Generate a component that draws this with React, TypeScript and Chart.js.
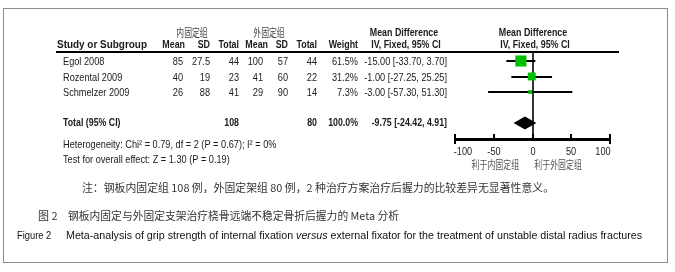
import React, { useEffect, useRef } from "react";
import { Chart, registerables } from "chart.js";
Chart.register(...registerables);

// ---------- data ----------
const studies = ["Egol 2008", "Rozental 2009", "Schmelzer 2009"];
const expMean = [85, 40, 26];
const expSD = ["27.5", "19", "88"];
const expTotal = [44, 23, 41];
const ctrlMean = [100, 41, 29];
const ctrlSD = [57, 60, 90];
const ctrlTotal = [44, 22, 14];
const weights = [61.5, 31.2, 7.3];
const md = [-15.0, -1.0, -3.0];
const ciLow = [-33.7, -27.25, -57.3];
const ciHigh = [3.7, 25.25, 51.3];
const totalExp = 108;
const totalCtrl = 80;
const totalWeight = 100.0;
const totalMD = -9.75;
const totalLow = -24.42;
const totalHigh = 4.91;
const xTicks = [-100, -50, 0, 50, 100];
const groupExp = "内固定组";
const groupCtrl = "外固定组";
const favoursLeft = "利于内固定组";
const favoursRight = "利于外固定组";
const heterogeneity = "Heterogeneity: Chi² = 0.79, df = 2 (P = 0.67); I² = 0%";
const overallEffect = "Test for overall effect: Z = 1.30 (P = 0.19)";
const noteText = "注：钢板内固定组 108 例，外固定架组 80 例，2 种治疗方案治疗后握力的比较差异无显著性意义。";
const captionCnLabel = "图 2";
const captionCn = "钢板内固定与外固定支架治疗桡骨远端不稳定骨折后握力的 Meta 分析";
const captionEnLabel = "Figure 2";
const captionEnParts = [
  "Meta-analysis of grip strength of internal fixation ",
  "versus",
  " external fixator for the treatment of unstable distal radius fractures",
];

const fmt2 = (v: number) => v.toFixed(2);
const ciText = (m: number, l: number, h: number) => `${fmt2(m)} [${fmt2(l)}, ${fmt2(h)}]`;

const FONT = '"Liberation Sans", Arial, sans-serif';
const CJK = '"Noto Sans CJK SC", sans-serif';
const NARROW = 0.835;

type TOpt = {
  size?: number;
  bold?: boolean;
  italic?: boolean;
  align?: CanvasTextAlign;
  sx?: number;
  color?: string;
  family?: string;
  fit?: number;
};

function txt(ctx: CanvasRenderingContext2D, s: string, x: number, y: number, o: TOpt = {}) {
  ctx.save();
  ctx.font = `${o.italic ? "italic " : ""}${o.bold ? "bold " : ""}${o.size ?? 11}px ${o.family ?? FONT}`;
  ctx.fillStyle = o.color ?? "#1a1a1a";
  ctx.textAlign = o.align ?? "left";
  ctx.textBaseline = "middle";
  let sx = o.sx ?? NARROW;
  if (o.fit) sx = o.fit / ctx.measureText(s).width;
  ctx.translate(x, y);
  ctx.scale(sx, 1);
  ctx.fillText(s, 0, 0);
  ctx.restore();
}

export default function App() {
  const ref = useRef<HTMLCanvasElement>(null);

  useEffect(() => {
    document.body.style.margin = "0";
    const canvas = ref.current!;
    const W = 675;
    const H = 272;
    const plot = { left: 455, right: 610, top: 52, bottom: 139 };
    const totalRow = 4;

    const forest = {
      id: "forest",
      beforeDatasetsDraw(chart: any) {
        const ctx: CanvasRenderingContext2D = chart.ctx;
        const xs = chart.scales.x;
        const ys = chart.scales.y;
        ctx.save();
        // frame
        ctx.strokeStyle = "#8c8c8c";
        ctx.lineWidth = 1;
        ctx.strokeRect(3.5, 8.5, 664, 254);

        // header line
        ctx.fillStyle = "#000";
        ctx.fillRect(56, 51, 563, 2);

        // zero line
        const x0 = xs.getPixelForValue(0);
        ctx.fillStyle = "#333";
        ctx.fillRect(Math.round(x0) - 1, plot.top, 2, plot.bottom - plot.top);

        // axis
        ctx.fillStyle = "#000";
        const xa = xs.getPixelForValue(xTicks[0]);
        const xb = xs.getPixelForValue(xTicks[xTicks.length - 1]);
        ctx.fillRect(xa - 1, plot.bottom - 1, xb - xa + 2, 3);
        xTicks.forEach((t, i) => {
          const px = Math.round(xs.getPixelForValue(t));
          const first = i === 0;
          const last = i === xTicks.length - 1;
          ctx.fillRect(px - 1, plot.bottom - 5, 2, first || last ? 10 : 5);
          const lx = first ? px + 8 : last ? px - 7 : px;
          txt(ctx, String(t), lx, plot.bottom + 13, { align: "center", size: 11, color: "#222" });
        });
        txt(ctx, favoursLeft, xs.getPixelForValue(-48), plot.bottom + 26, { align: "center", size: 11, family: CJK, sx: 0.72, color: "#555" });
        txt(ctx, favoursRight, xs.getPixelForValue(33), plot.bottom + 26, { align: "center", size: 11, family: CJK, sx: 0.72, color: "#555" });

        // CI whiskers
        ctx.fillStyle = "#000";
        studies.forEach((_, i) => {
          const y = Math.round(ys.getPixelForValue(i));
          const l = xs.getPixelForValue(ciLow[i]);
          const h = xs.getPixelForValue(ciHigh[i]);
          ctx.fillRect(l, y - 1, h - l, 2);
        });

        // ---------- table text ----------
        const hy1 = 33;
        const hy2 = 45;
        const hs = 11.5;
        const hb = { bold: true, size: hs, sx: 0.77 };
        txt(ctx, groupExp, 192, hy1, { align: "center", family: CJK, size: 11.5, sx: 0.68, color: "#444" });
        txt(ctx, groupCtrl, 269, hy1, { align: "center", family: CJK, size: 11.5, sx: 0.68, color: "#444" });
        txt(ctx, "Mean Difference", 404, hy1, { ...hb, align: "center" });
        txt(ctx, "Mean Difference", 533, hy1, { ...hb, align: "center" });

        const colsR = { m1: 185, sd1: 210, t1: 239, m2: 268, sd2: 288, t2: 317, w: 358, ci: 447 };
        txt(ctx, "Study or Subgroup", 57, hy2, { bold: true, size: hs, fit: 90 });
        txt(ctx, "Mean", colsR.m1, hy2, { ...hb, align: "right" });
        txt(ctx, "SD", colsR.sd1, hy2, { ...hb, align: "right" });
        txt(ctx, "Total", colsR.t1, hy2, { ...hb, align: "right" });
        txt(ctx, "Mean", colsR.m2, hy2, { ...hb, align: "right" });
        txt(ctx, "SD", colsR.sd2, hy2, { ...hb, align: "right" });
        txt(ctx, "Total", colsR.t2, hy2, { ...hb, align: "right" });
        txt(ctx, "Weight", colsR.w, hy2, { ...hb, align: "right" });
        txt(ctx, "IV, Fixed, 95% CI", 406, hy2, { ...hb, align: "center" });
        txt(ctx, "IV, Fixed, 95% CI", 535, hy2, { ...hb, align: "center" });

        studies.forEach((s, i) => {
          const y = ys.getPixelForValue(i) + 1;
          txt(ctx, s, 63, y);
          txt(ctx, String(expMean[i]), colsR.m1 - 2, y, { align: "right" });
          txt(ctx, expSD[i], colsR.sd1, y, { align: "right" });
          txt(ctx, String(expTotal[i]), colsR.t1, y, { align: "right" });
          txt(ctx, String(ctrlMean[i]), colsR.m2 - 5, y, { align: "right" });
          txt(ctx, String(ctrlSD[i]), colsR.sd2, y, { align: "right" });
          txt(ctx, String(ctrlTotal[i]), colsR.t2, y, { align: "right" });
          txt(ctx, `${weights[i].toFixed(1)}%`, colsR.w, y, { align: "right" });
          txt(ctx, ciText(md[i], ciLow[i], ciHigh[i]), colsR.ci, y, { align: "right" });
        });

        const ty = ys.getPixelForValue(totalRow);
        const tb = { bold: true, sx: 0.8 };
        txt(ctx, "Total (95% CI)", 63, ty, tb);
        txt(ctx, String(totalExp), colsR.t1, ty, { ...tb, align: "right" });
        txt(ctx, String(totalCtrl), colsR.t2, ty, { ...tb, align: "right" });
        txt(ctx, `${totalWeight.toFixed(1)}%`, colsR.w, ty, { ...tb, align: "right" });
        txt(ctx, ciText(totalMD, totalLow, totalHigh), colsR.ci, ty, { ...tb, align: "right" });

        txt(ctx, heterogeneity, 63, 145);
        txt(ctx, overallEffect, 63, 160);

        // notes and captions
        txt(ctx, noteText, 82, 188, { family: CJK, size: 11, fit: 472, color: "#333" });
        txt(ctx, captionCnLabel, 38, 216, { family: CJK, size: 11, sx: 1, color: "#333" });
        txt(ctx, captionCn, 68, 216, { family: CJK, size: 11, fit: 331, color: "#333" });
        txt(ctx, captionEnLabel, 17, 236, { size: 11, sx: 0.85, color: "#111" });

        // English caption with italic part, fitted as a whole
        ctx.save();
        const fonts = [`11px ${FONT}`, `italic 11px ${FONT}`, `11px ${FONT}`];
        const widths = captionEnParts.map((p, i) => {
          ctx.font = fonts[i];
          return ctx.measureText(p).width;
        });
        const sum = widths.reduce((a, b) => a + b, 0);
        const sc = 576 / sum;
        let cx = 66;
        captionEnParts.forEach((p, i) => {
          txt(ctx, p, cx, 236, { size: 11, italic: i === 1, sx: sc, color: "#111" });
          cx += widths[i] * sc;
        });
        ctx.restore();
        ctx.restore();
      },
      afterDatasetsDraw(chart: any) {
        const ctx: CanvasRenderingContext2D = chart.ctx;
        const xs = chart.scales.x;
        const ys = chart.scales.y;
        const y = ys.getPixelForValue(totalRow);
        const half = 6.5;
        ctx.save();
        ctx.fillStyle = "#000";
        ctx.beginPath();
        ctx.moveTo(xs.getPixelForValue(totalLow), y);
        ctx.lineTo(xs.getPixelForValue(totalMD), y - half);
        ctx.lineTo(xs.getPixelForValue(totalHigh), y);
        ctx.lineTo(xs.getPixelForValue(totalMD), y + half);
        ctx.closePath();
        ctx.fill();
        ctx.restore();
      },
    };

    const chart = new Chart(canvas, {
      type: "scatter",
      data: {
        datasets: [
          {
            data: studies.map((_, i) => ({ x: md[i], y: i })),
            pointStyle: "rect",
            pointRadius: weights.map((w) => Math.sqrt(w)),
            backgroundColor: "#00c000",
            borderWidth: 0,
          },
        ],
      },
      options: {
        responsive: false,
        animation: false,
        devicePixelRatio: 1,
        events: [],
        layout: {
          padding: { left: plot.left, right: W - plot.right, top: plot.top, bottom: H - plot.bottom },
        },
        scales: {
          x: { type: "linear", min: -100, max: 100, display: false },
          y: { type: "linear", min: -0.58, max: 5.03, reverse: true, display: false },
        },
        plugins: { legend: { display: false }, tooltip: { enabled: false } },
      },
      plugins: [forest],
    } as any);
    return () => chart.destroy();
  }, []);

  return <canvas ref={ref} width={675} height={272} style={{ display: "block" }} />;
}
